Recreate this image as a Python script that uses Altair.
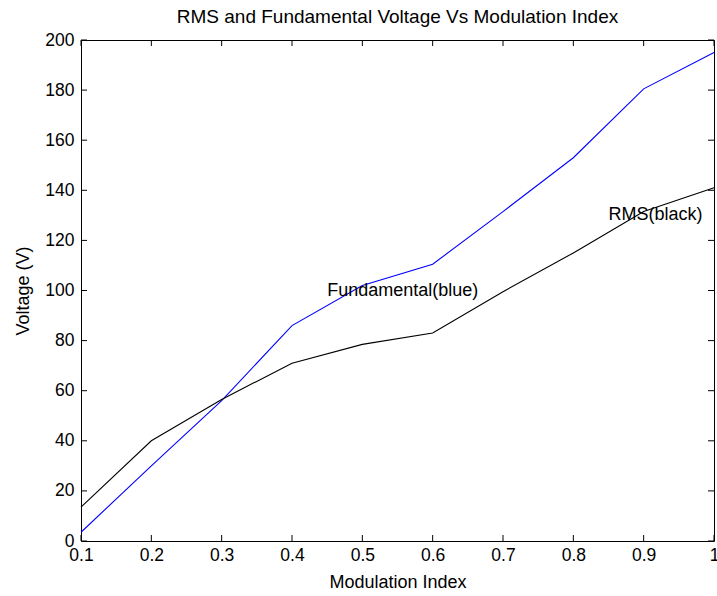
import altair as alt
import pandas as pd

# Modulation index sweep and measured voltages
mod_index = [0.1, 0.2, 0.3, 0.4, 0.5, 0.6, 0.7, 0.8, 0.9, 1.0]
fundamental_v = [3.5, 30, 56, 86, 102, 110.5, 131.5, 153, 180.5, 195]
rms_v = [13.5, 40, 56.5, 71, 78.5, 83, 99.5, 115, 131.5, 141]

x_ticks = [0.1, 0.2, 0.3, 0.4, 0.5, 0.6, 0.7, 0.8, 0.9, 1.0]
y_ticks = [0, 20, 40, 60, 80, 100, 120, 140, 160, 180, 200]

# Inline curve annotations
note_text = ["Fundamental(blue)", "RMS(black)"]
note_x = [0.45, 0.85]
note_y = [100, 130]

W, H = 633, 501
TICK = 6
FONT = "Liberation Sans"

df = pd.DataFrame({"m": mod_index, "fund": fundamental_v, "rms": rms_v})
notes = pd.DataFrame({"label": note_text, "m": note_x, "v": note_y})
xt = pd.DataFrame({"t": x_ticks})
yt = pd.DataFrame({"t": y_ticks})

xscale = alt.Scale(domain=[0.1, 1.0], nice=False, zero=False)
yscale = alt.Scale(domain=[0, 200], nice=False)

x_axis = alt.Axis(
    values=x_ticks,
    labelExpr="datum.value == 1 ? '1' : format(datum.value, '.1f')",
    ticks=False, domain=False, grid=False, labelFlush=False, labelOverlap=False,
    labelFontSize=17.5, labelPadding=5, labelColor="black", labelFont=FONT,
    title="Modulation Index", titleFontSize=18, titleFontWeight="normal",
    titleFont=FONT, titleColor="black", titleBaseline="alphabetic",
    titleY=46, titleX=W / 2,
)
y_axis = alt.Axis(
    values=y_ticks,
    ticks=False, domain=False, grid=False, labelFlush=False, labelOverlap=False,
    labelFontSize=17.5, labelPadding=7, labelColor="black", labelFont=FONT,
    title="Voltage (V)", titleFontSize=18, titleFontWeight="normal",
    titleFont=FONT, titleColor="black", titleAngle=-90,
    titleBaseline="alphabetic", titleAlign="center",
    titleX=-53, titleY=H / 2,
)

base = alt.Chart(df)

fund_line = base.mark_line(color="#0000ff", strokeWidth=1.1).encode(
    x=alt.X("m:Q", scale=xscale, axis=x_axis),
    y=alt.Y("fund:Q", scale=yscale, axis=y_axis),
)
rms_line = base.mark_line(color="#000000", strokeWidth=1.1).encode(
    x=alt.X("m:Q", scale=xscale),
    y=alt.Y("rms:Q", scale=yscale),
)

labels = alt.Chart(notes).mark_text(
    align="left", baseline="middle", fontSize=18, font=FONT, color="black"
).encode(
    x=alt.X("m:Q", scale=xscale),
    y=alt.Y("v:Q", scale=yscale),
    text="label:N",
)

# Inward-pointing ticks on all four sides of the box
tick_style = dict(color="black", strokeWidth=1)
bottom_ticks = alt.Chart(xt).mark_rule(**tick_style).encode(
    x=alt.X("t:Q", scale=xscale), y=alt.value(H), y2=alt.value(H - TICK)
)
top_ticks = alt.Chart(xt).mark_rule(**tick_style).encode(
    x=alt.X("t:Q", scale=xscale), y=alt.value(0), y2=alt.value(TICK)
)
left_ticks = alt.Chart(yt).mark_rule(**tick_style).encode(
    y=alt.Y("t:Q", scale=yscale), x=alt.value(0), x2=alt.value(TICK)
)
right_ticks = alt.Chart(yt).mark_rule(**tick_style).encode(
    y=alt.Y("t:Q", scale=yscale), x=alt.value(W), x2=alt.value(W - TICK)
)

chart = alt.layer(
    bottom_ticks, top_ticks, left_ticks, right_ticks,
    fund_line, rms_line, labels,
).properties(
    width=W,
    height=H,
    autosize=alt.AutoSizeParams(type="none"),
    padding={"left": 81, "top": 40, "right": 3, "bottom": 55},
    title=alt.TitleParams(
        "RMS and Fundamental Voltage Vs Modulation Index",
        fontSize=19, fontWeight="normal", font=FONT, color="black",
        anchor="middle", offset=4,
    ),
    background="white",
).configure_view(
    stroke="black", strokeWidth=1
)

chart.save("out.html", embed_options={"renderer": "svg", "actions": False})
